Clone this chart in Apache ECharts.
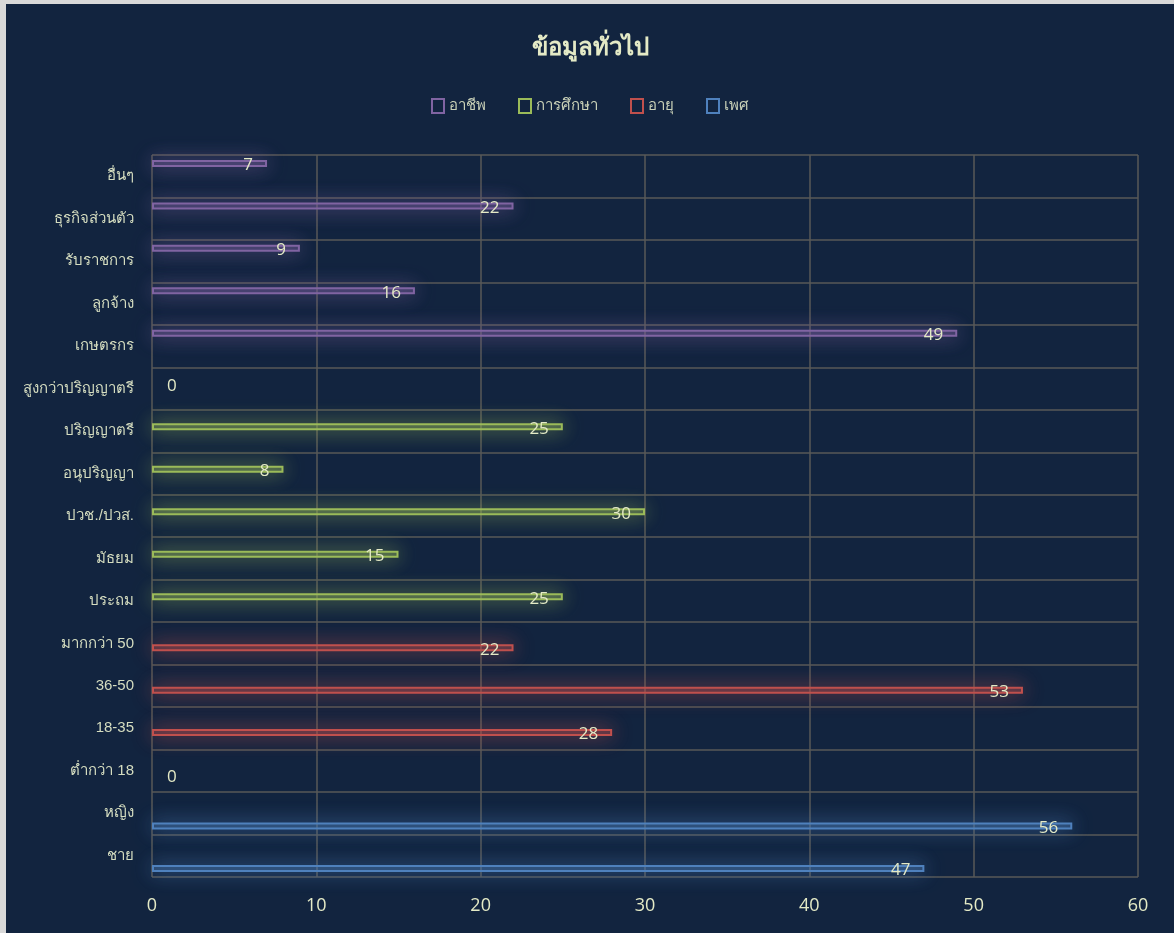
<!DOCTYPE html>
<html lang="th">
<head>
<meta charset="UTF-8">
<title>ข้อมูลทั่วไป</title>
<script src="https://cdn.jsdelivr.net/npm/echarts@6/dist/echarts.min.js"></script>
<style>
  body { margin: 0; background: #d9d9d9; }
  #chart { position: absolute; left: 6px; top: 4px; width: 1168px; height: 929px; background: #12243f; }
</style>
</head>
<body>
<div id="chart"></div>
<script>
// หมวดหมู่ (จากล่างขึ้นบน)
var categories = ['ชาย', 'หญิง', 'ต่ำกว่า 18', '18-35', '36-50', 'มากกว่า 50',
  'ประถม', 'มัธยม', 'ปวช./ปวส.', 'อนุปริญญา', 'ปริญญาตรี', 'สูงกว่าปริญญาตรี',
  'เกษตรกร', 'ลูกจ้าง', 'รับราชการ', 'ธุรกิจส่วนตัว', 'อื่นๆ'];

var seriesNames = ['อาชีพ', 'การศึกษา', 'อายุ', 'เพศ'];
var seriesColors = ['#8064a2', '#9bbb59', '#c0504d', '#4f81bd'];

// null = ไม่มีค่าในหมวดนั้น
var jobValues = [null, null, null, null, null, null, null, null, null, null, null, null, 49, 16, 9, 22, 7];
var eduValues = [null, null, null, null, null, null, 25, 15, 30, 8, 25, 0, null, null, null, null, null];
var ageValues = [null, null, 0, 28, 53, 22, null, null, null, null, null, null, null, null, null, null, null];
var sexValues = [47, 56, null, null, null, null, null, null, null, null, null, null, null, null, null, null, null];

var xTicks = { min: 0, max: 60, interval: 10 };

var allValues = [jobValues, eduValues, ageValues, sexValues];
var textColor = '#e4eac6';

function hexA(hex, a) {
  var n = parseInt(hex.slice(1), 16);
  return 'rgba(' + (n >> 16) + ',' + ((n >> 8) & 255) + ',' + (n & 255) + ',' + a + ')';
}

var series = seriesNames.map(function (name, i) {
  var c = seriesColors[i];
  return {
    name: name,
    type: 'bar',
    barWidth: 7,
    barGap: '22%',
    data: allValues[i].map(function (v) {
      if (v === 0) {
        // ค่า 0: ไม่วาดแท่ง แสดงเฉพาะป้ายทางขวา
        return {
          value: v,
          itemStyle: { borderWidth: 0, color: 'transparent', shadowBlur: 0 },
          label: { position: 'right', distance: 15 }
        };
      }
      return v;
    }),
    itemStyle: {
      color: hexA(c, 0.35),
      borderColor: c,
      borderWidth: 2,
      shadowColor: c,
      shadowBlur: 20
    },
    label: {
      show: true,
      position: 'insideRight',
      distance: 14,
      offset: [0, 2],
      color: textColor,
      fontSize: 17,
      fontFamily: '"Open Sans", sans-serif',
      formatter: function (p) { return p.value; }
    }
  };
});

var chart = echarts.init(document.getElementById('chart'));
chart.setOption({
  backgroundColor: '#12243f',
  title: {
    text: 'ข้อมูลทั่วไป',
    left: 'center',
    top: 27,
    textStyle: { color: textColor, fontSize: 24, fontWeight: 'bold', fontFamily: 'Tahoma, "Noto Sans", sans-serif' }
  },
  legend: {
    top: 89,
    left: 'center',
    itemWidth: 12,
    itemHeight: 14,
    itemGap: 32,
    icon: 'rect',
    textStyle: { color: '#c9d1b8', fontSize: 15 },
    data: seriesNames.map(function (n, i) {
      return { name: n, itemStyle: { color: 'transparent', borderColor: seriesColors[i], borderWidth: 2, shadowBlur: 0 } };
    })
  },
  grid: { left: 146, right: 36, top: 151, bottom: 56, containLabel: false },
  xAxis: {
    type: 'value',
    min: xTicks.min,
    max: xTicks.max,
    interval: xTicks.interval,
    axisLine: { show: false },
    axisTick: { show: false },
    axisLabel: { color: textColor, fontSize: 18, margin: 20, fontFamily: '"Open Sans", sans-serif' },
    splitLine: { show: true, lineStyle: { color: '#595959', width: 1.5 } }
  },
  yAxis: {
    type: 'category',
    data: categories,
    axisLine: { show: false },
    axisTick: { show: false },
    axisLabel: { color: '#d5ddc0', fontSize: 15, margin: 18 },
    splitLine: { show: true, lineStyle: { color: '#595959', width: 1.5 } }
  },
  series: series
});
</script>
</body>
</html>
